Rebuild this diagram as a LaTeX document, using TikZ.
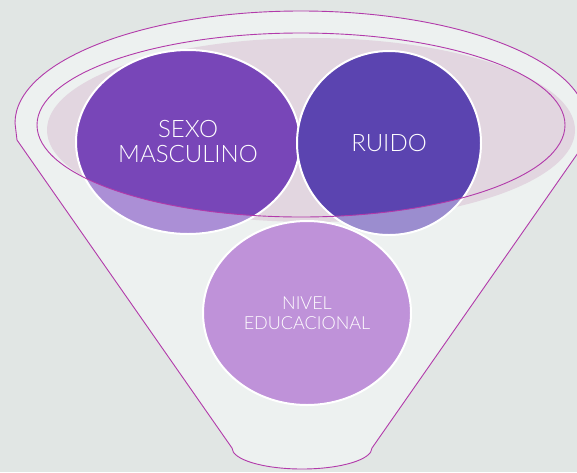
\documentclass[tikz,border=0pt]{standalone}
\usepackage{fontspec}
\newfontfamily\labelfont{Lato Light}
\definecolor{fun_back}{RGB}{225, 230, 228}
\definecolor{fun_body}{RGB}{237, 241, 240}
\definecolor{fun_line}{RGB}{178, 58, 170}
\definecolor{fun_rim}{RGB}{226, 214, 224}
\definecolor{sexo_dark}{RGB}{120, 70, 184}
\definecolor{sexo_light}{RGB}{171, 143, 214}
\definecolor{ruido_dark}{RGB}{91, 68, 176}
\definecolor{ruido_light}{RGB}{155, 141, 207}
\definecolor{nivel_fill}{RGB}{191, 146, 217}
\usetikzlibrary{positioning}

\begin{document}
\begin{tikzpicture}[x=1pt, y=-1pt,
        rimline/.style={draw=fun_line, line width=0.9pt},
        bubble/.style={draw=white, line width=2pt},
        label/.style={text=white, align=center, inner sep=0pt,
                      font=\labelfont\fontsize{24}{25}\selectfont}]
  \useasboundingbox (0,0) rectangle (577,472);
  \clip (0,0) rectangle (577,472);
  \fill[fun_back] (0,0) rectangle (577,472);
  % Funnel body
  \draw[rimline, fill=fun_body] (17,140) -- (15,123)
    arc[start angle=180, end angle=0, x radius=286pt, y radius=112pt]
    -- (587,140) -- (372,448)
    arc[start angle=0, end angle=-180, x radius=70pt, y radius=21pt]
    -- cycle;
  % Rim
  \fill[fun_rim] (311,130) ellipse[x radius=264pt, y radius=92pt];
  % Sexo masculino
  \fill[sexo_light] (188,142) ellipse[x radius=112pt, y radius=92pt];
  \begin{scope}
    \clip (301,125) ellipse[x radius=264pt, y radius=92pt];
    \fill[sexo_dark] (188,142) ellipse[x radius=112pt, y radius=92pt];
  \end{scope}
  \draw[bubble] (188,142) ellipse[x radius=112pt, y radius=92pt];
  % Ruido
  \fill[ruido_light] (389,143) ellipse[x radius=92pt, y radius=92pt];
  \begin{scope}
    \clip (301,125) ellipse[x radius=264pt, y radius=92pt];
    \fill[ruido_dark] (389,143) ellipse[x radius=92pt, y radius=92pt];
  \end{scope}
  \draw[bubble] (389,143) ellipse[x radius=92pt, y radius=92pt];
  \draw[rimline] (301,125) ellipse[x radius=264pt, y radius=92pt];
  % Nivel educacional
  \draw[bubble, fill=nivel_fill] (307,313) ellipse[x radius=104pt, y radius=92pt];
  % Labels
  \node[label] (sexo) at (188,142) {SEXO\\MASCULINO};
  \node[label] (ruido) at (389,143) {RUIDO};
  \node[label, font=\labelfont\fontsize{18}{20}\selectfont] (nivel)
    at (307,313) {NIVEL\\EDUCACIONAL};
\end{tikzpicture}
\end{document}
